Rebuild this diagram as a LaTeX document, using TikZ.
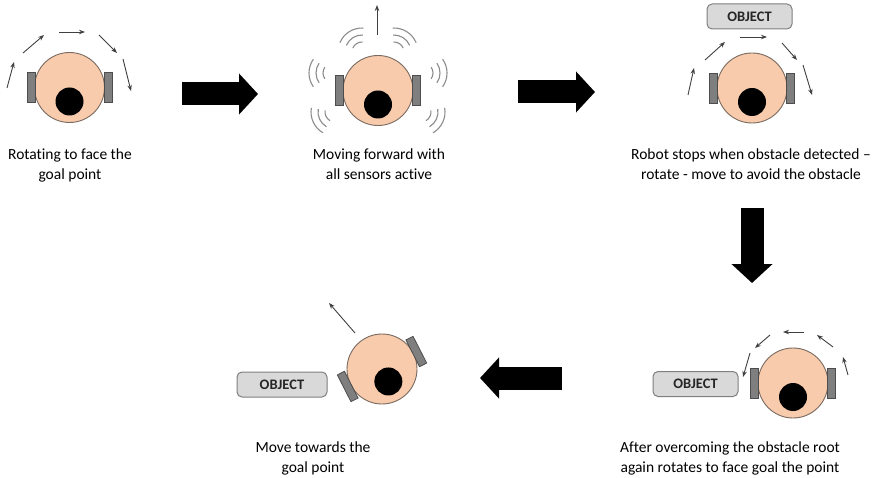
\documentclass[tikz,border=0pt]{standalone}
\usepackage{fontspec}
\setmainfont{Carlito}[Ligatures=NoCommon]
\usetikzlibrary{arrows.meta}

\definecolor{skin}{HTML}{F8CBAD}
\definecolor{skinedge}{HTML}{7A6A60}
\definecolor{wheelfill}{HTML}{7F7F7F}
\definecolor{wheeledge}{HTML}{4D4D4D}
\definecolor{objfill}{HTML}{D9D9D9}
\definecolor{objedge}{HTML}{7F7F7F}
\definecolor{motion}{HTML}{404040}
\definecolor{wave}{HTML}{8C8C8C}

\tikzset{
  body/.style={circle, draw=skinedge, fill=skin, line width=0.9pt,
    minimum size=70pt, inner sep=0pt},
  wheel/.style={draw=wheeledge, fill=wheelfill, line width=0.8pt},
  sensorhole/.style={circle, fill=black, minimum size=28pt, inner sep=0pt},
  objbox/.style={draw=objedge, fill=objfill, rounded corners=5pt, line width=1pt,
    minimum height=25pt, inner sep=0pt, text=black!85,
    font=\fontsize{14.5}{15}\selectfont\bfseries},
  motionarrow/.style={draw=motion, line width=0.9pt,
    -{Stealth[length=6pt,width=4.5pt]}},
  bigarrow/.style={line width=23pt, -{Triangle[width=40pt,length=19pt]}},
  waves/.style={draw=wave, line width=1.1pt},
  caption/.style={align=center, inner sep=0pt, anchor=north,
    font=\fontsize{15.5}{20}\selectfont},
  pics/robot/.style={code={
    \node[body] (-body) at (0,0) {};
    \draw[wheel] (-42.5,-15) rectangle (-34.5,15);
    \draw[wheel] (34.5,-15) rectangle (42.5,15);
    \node[sensorhole] (-hole) at (0,14) {};
  }},
}

% three concentric sensor arcs around a source point, opening towards #3
\newcommand\sensorwaves[3]{%
  \foreach \r in {10,17,24}{
    \draw[waves] ([shift={(#3-35:\r pt)}]#1,#2)
      arc[start angle=#3-35, end angle=#3+35, radius=\r pt];
  }}

\begin{document}
\begin{tikzpicture}[x=1pt, y=-1pt]
  \fill[white] (0,0) rectangle (880,478);
  \useasboundingbox (0,0) rectangle (880,478);

  % stage 1: turning towards the goal
  \pic (r1) at (69.5,87.5) {robot};
  \draw[motionarrow] (7,88) -- (14,62);
  \draw[motionarrow] (23,53) -- (44,35);
  \draw[motionarrow] (59,32) -- (85,32);
  \draw[motionarrow] (99,35) -- (117,53);
  \draw[motionarrow] (123,59) -- (131,91);
  \node[caption] (c1) at (70,149) {Rotating to face the\\goal point};

  % stage 2: driving forward, sensors scanning
  \pic (r2) at (378,90.5) {robot};
  \draw[motionarrow] (377,35) -- (377,5);
  \sensorwaves{362}{52}{122}
  \sensorwaves{333}{73}{180}
  \sensorwaves{335}{112}{205}
  \sensorwaves{394}{52}{58}
  \sensorwaves{423}{73}{0}
  \sensorwaves{421}{112}{-25}
  \node[caption] (c2) at (379,149) {Moving forward with\\all sensors active};

  % stage 3: obstacle ahead
  \node[objbox, minimum width=85pt] (o3) at (749.5,16.5) {OBJECT};
  \pic (r3) at (752,88) {robot};
  \draw[motionarrow] (688,95) -- (694,68);
  \draw[motionarrow] (705,60) -- (725,42);
  \draw[motionarrow] (740,37) -- (767,37);
  \draw[motionarrow] (782,43) -- (797,60);
  \draw[motionarrow] (803,65) -- (812,95);
  \node[caption] (c3) at (751,149)
    {Robot stops when obstacle detected --\\rotate - move to avoid the obstacle};

  % stage 4: past the obstacle, turning back
  \node[objbox, minimum width=85pt] (o5) at (695.5,384) {OBJECT};
  \pic (r5) at (793,383) {robot};
  \draw[motionarrow] (848,375) -- (843,357);
  \draw[motionarrow] (833,347) -- (817,335);
  \draw[motionarrow] (804,332) -- (783,332);
  \draw[motionarrow] (770,335) -- (755,348);
  \draw[motionarrow] (750,353) -- (743,377);
  \node[caption] (c5) at (730,442)
    {After overcoming the obstacle root\\again rotates to face goal the point};

  % stage 5: heading to the goal
  \node[objbox, minimum width=90pt] (o4) at (282,384.5) {OBJECT};
  \pic[rotate=27] (r4) at (382,369) {robot};
  \draw[motionarrow] (355,333) -- (329,303);
  \node[caption] (c4) at (313,442) {Move towards the\\goal point};

  % flow between stages
  \coordinate (a1s) at (182,94);  \coordinate (a1e) at (258,94);
  \coordinate (a2s) at (518,92);  \coordinate (a2e) at (595,92);
  \coordinate (a3s) at (752,208); \coordinate (a3e) at (752,283);
  \coordinate (a4s) at (562,378); \coordinate (a4e) at (480,378);
  \draw[bigarrow] (a1s) -- (a1e);
  \draw[bigarrow] (a2s) -- (a2e);
  \draw[bigarrow] (a3s) -- (a3e);
  \draw[bigarrow] (a4s) -- (a4e);
\end{tikzpicture}
\end{document}
